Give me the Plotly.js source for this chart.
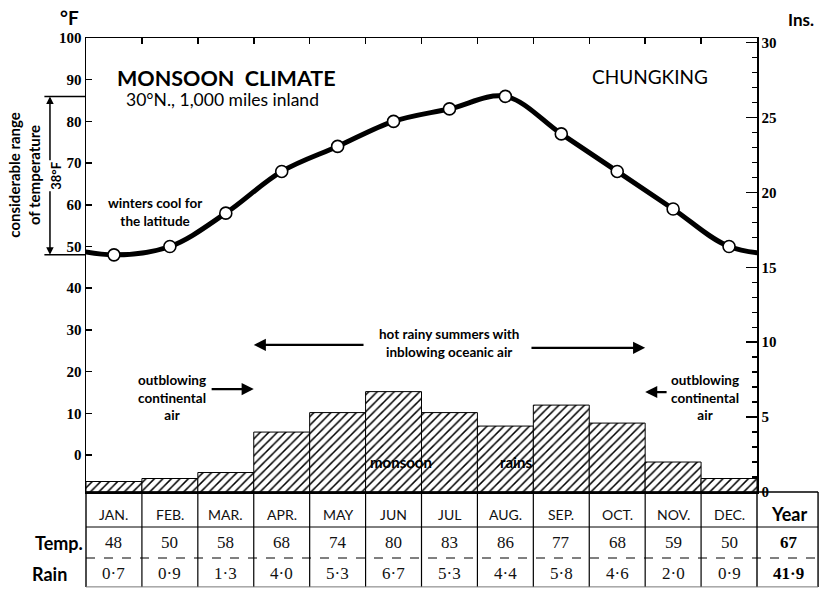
<!DOCTYPE html>
<html>
<head>
<meta charset="utf-8">
<script src="https://cdn.plot.ly/plotly-3.0.1.min.js"></script>
<style>html,body{margin:0;padding:0;background:#fff;}#chart{width:822px;height:589px;}</style>
</head>
<body>
<div id="chart"></div>
<script>
// ---- data ----
const months = ['JAN.','FEB.','MAR.','APR.','MAY','JUN','JUL','AUG.','SEP.','OCT.','NOV.','DEC.'];
const tempF  = [48, 50, 58, 68, 74, 80, 83, 86, 77, 68, 59, 50];
const rainIn = [0.7, 0.9, 1.3, 4.0, 5.3, 6.7, 5.3, 4.4, 5.8, 4.6, 2.0, 0.9];
const tempTicks = [0, 10, 20, 30, 40, 50, 60, 70, 80, 90, 100];
const rainTicks = [0, 5, 10, 15, 20, 25, 30];
const station = 'CHUNGKING';
const title = 'MONSOON CLIMATE';
const subtitle = '30°N., 1,000 miles inland';

// ---- derived ----
const idx = months.map((m, i) => i);
const fmt = v => v.toFixed(1).replace('.', '·');
const yearTemp = Math.round(tempF.reduce((a, b) => a + b, 0) / tempF.length);
const yearRain = rainIn.reduce((a, b) => a + b, 0);
const tMax = Math.max(...tempF), tMin = Math.min(...tempF);
// wrap the annual cycle so the curve runs to both plot edges
const wrapX = [-1].concat(idx, [months.length]);
const wrapY = [tempF[tempF.length - 1]].concat(tempF, [tempF[0]]);

const sans = 'Lato, "Open Sans", sans-serif';
const serif = '"Liberation Serif", "DejaVu Serif", serif';

const traces = [
  {
    type: 'bar', x: idx, y: rainIn, yaxis: 'y2', xaxis: 'x',
    marker: {
      color: '#ffffff',
      line: {color: '#000', width: 1},
      pattern: {shape: '/', fgcolor: '#000', bgcolor: '#fff', size: 6, solidity: 0.25}
    },
    hoverinfo: 'skip'
  },
  {
    type: 'scatter', mode: 'lines', x: wrapX, y: wrapY,
    line: {shape: 'spline', smoothing: 1, color: '#000', width: 5},
    hoverinfo: 'skip'
  },
  {
    type: 'scatter', mode: 'markers', x: idx, y: tempF,
    marker: {size: 12, color: '#fff', line: {color: '#000', width: 1.6}},
    hoverinfo: 'skip'
  }
];

// ---- table geometry (paper coords; plot domain bottom = top of table) ----
const rowTop = 0, rowH1 = -0.0771, rowH2 = -0.1454, rowBot = -0.209;
const yHead = -0.049, yTemp = -0.112, yRain = -0.180;
const yearRight = 1.091, yearCenter = 1.047;

const shapes = [];
const annotations = [];
function pa(o) { // paper-anchored annotation with explicit centre anchors
  return Object.assign({xref: 'paper', yref: 'paper', xanchor: 'center', yanchor: 'middle', showarrow: false}, o);
}

// vertical table lines between months
for (let k = 1; k < months.length; k++) {
  shapes.push({type: 'line', xref: 'x', yref: 'paper', x0: k - 0.5, x1: k - 0.5, y0: rowTop, y1: rowBot,
    line: {color: '#000', width: 1.2}});
}
// outer verticals
[0, 1, yearRight].forEach(xp => {
  shapes.push({type: 'line', xref: 'paper', yref: 'paper', x0: xp, x1: xp, y0: rowTop, y1: rowBot,
    line: {color: '#000', width: 1.4}});
});
// horizontal table lines
shapes.push({type: 'line', xref: 'paper', yref: 'paper', x0: 0, x1: yearRight, y0: rowTop, y1: rowTop, line: {color: '#000', width: 1.4}});
shapes.push({type: 'line', xref: 'paper', yref: 'paper', x0: 0, x1: yearRight, y0: rowH1, y1: rowH1, line: {color: '#000', width: 1}});
shapes.push({type: 'line', xref: 'paper', yref: 'paper', x0: 0, x1: yearRight, y0: rowH2, y1: rowH2, line: {color: '#000', width: 1, dash: 'dash'}});
shapes.push({type: 'line', xref: 'paper', yref: 'paper', x0: 0, x1: yearRight, y0: rowBot, y1: rowBot, line: {color: '#777', width: 1}});

// range marker lines (max & min temp)
[tMax, tMin].forEach(v => {
  shapes.push({type: 'line', xref: 'paper', yref: 'y', x0: -0.062, x1: 0, y0: v, y1: v, line: {color: '#000', width: 1.5}});
});

// table text
months.forEach((m, i) => {
  annotations.push({xref: 'x', yref: 'paper', x: i, y: yHead, xanchor: 'center', yanchor: 'middle', text: m, showarrow: false,
    font: {family: sans, size: 14, color: '#111'}});
  annotations.push({xref: 'x', yref: 'paper', x: i, y: yTemp, xanchor: 'center', yanchor: 'middle', text: String(tempF[i]), showarrow: false,
    font: {family: serif, size: 17, color: '#111'}});
  annotations.push({xref: 'x', yref: 'paper', x: i, y: yRain, xanchor: 'center', yanchor: 'middle', text: fmt(rainIn[i]), showarrow: false,
    font: {family: serif, size: 17, color: '#111'}});
});
annotations.push(pa({x: yearCenter, y: yHead, text: '<b>Year</b>', font: {family: sans, size: 18, color: '#000'}}));
annotations.push(pa({x: yearCenter, y: yTemp, text: '<b>' + yearTemp + '</b>', font: {family: serif, size: 17, color: '#000'}}));
annotations.push(pa({x: yearCenter, y: yRain, text: '<b>' + fmt(yearRain) + '</b>', font: {family: serif, size: 17, color: '#000'}}));
annotations.push(pa({x: -0.002, y: yTemp, xanchor: 'right', text: '<b>Temp.</b>', font: {family: sans, size: 18, color: '#000'}}));
annotations.push(pa({x: -0.084, y: yRain, xanchor: 'left', text: '<b>Rain</b>', font: {family: sans, size: 18, color: '#000'}}));

// titles & axis units
annotations.push(pa({x: 0.209, y: 0.912, text: '<b>' + title.split(' ').join('&nbsp;&nbsp;') + '</b>',
  font: {family: sans, size: 21.5, color: '#000'}}));
annotations.push(pa({x: 0.204, y: 0.864, text: subtitle, font: {family: sans, size: 17.5, color: '#000'}}));
annotations.push(pa({x: 0.8405, y: 0.916, text: station, font: {family: sans, size: 19, color: '#000'}}));
annotations.push(pa({x: -0.024, y: 1.046, text: '<b>°F</b>', font: {family: sans, size: 19, color: '#000'}}));
annotations.push(pa({x: 1.066, y: 1.040, text: '<b>Ins.</b>', font: {family: sans, size: 17, color: '#000'}}));

// temperature range
annotations.push(pa({x: -0.0915, y: 0.698, textangle: -90,
  text: '<b>considerable range<br>of temperature</b>', font: {family: sans, size: 15, color: '#000'}}));
const midT = (tMax + tMin) / 2;
[tMax, tMin].forEach(v => {
  annotations.push({xref: 'paper', yref: 'y', x: -0.0537, y: v, axref: 'pixel', ax: 0, ayref: 'y', ay: midT,
    text: '', showarrow: true, arrowhead: 2, arrowsize: 1, arrowwidth: 1.5, arrowcolor: '#000', standoff: 0});
});
annotations.push({xref: 'paper', yref: 'y', x: -0.046, y: midT, xanchor: 'center', yanchor: 'middle', textangle: -90,
  text: '<b>' + (tMax - tMin) + '°F</b>', showarrow: false, bgcolor: '#fff',
  font: {family: sans, size: 13, color: '#000'}});

// explanatory notes
const note = {family: sans, size: 13.5, color: '#000'};
annotations.push({xref: 'x', yref: 'y', x: 0.73, y: 58.3, text: '<b>winters cool for<br>the latitude</b>', showarrow: false, font: note});
annotations.push({xref: 'x', yref: 'y', x: 6.0, y: 26.9, text: '<b>hot rainy summers with<br>inblowing oceanic air</b>', showarrow: false, font: note});
annotations.push({xref: 'x', yref: 'y', x: 1.04, y: 13.9, text: '<b>outblowing<br>continental<br>air</b>', showarrow: false, font: note});
annotations.push({xref: 'x', yref: 'y', x: 10.57, y: 13.9, text: '<b>outblowing<br>continental<br>air</b>', showarrow: false, font: note});
annotations.push({xref: 'x', yref: 'y', x: 5.13, y: -1.7, text: '<b>monsoon</b>', showarrow: false, font: {family: sans, size: 15, color: '#000'}});
annotations.push({xref: 'x', yref: 'y', x: 7.19, y: -1.7, text: '<b>rains</b>', showarrow: false, font: {family: sans, size: 15, color: '#000'}});

// arrows
function arrow(x0, y0, x1, y1) {
  annotations.push({xref: 'x', yref: 'y', axref: 'x', ayref: 'y', x: x1, y: y1, ax: x0, ay: y0,
    text: '', showarrow: true, arrowhead: 2, arrowsize: 1.1, arrowwidth: 2.2, arrowcolor: '#000', standoff: 0});
}
arrow(4.49, 26.4, 2.5, 26.4);
arrow(7.44, 25.7, 9.5, 25.7);
arrow(1.72, 15.8, 2.5, 15.8);
arrow(9.91, 15.1, 9.5, 15.1);

const layout = {
  width: 822, height: 589,
  margin: {l: 86, r: 65, t: 38, b: 97, pad: 0},
  paper_bgcolor: '#fff', plot_bgcolor: '#fff',
  showlegend: false,
  bargap: 0,
  xaxis: {
    range: [-0.5, months.length - 0.5], side: 'top',
    tickmode: 'array', tickvals: idx.slice(1).map(i => i - 0.5),
    ticks: 'inside', ticklen: 6, tickwidth: 1.5, tickcolor: '#000',
    showticklabels: false, showgrid: false, zeroline: false,
    showline: true, mirror: true, linecolor: '#000', linewidth: 1.5, fixedrange: true
  },
  yaxis: {
    range: [-8.87, 100], side: 'left',
    tickmode: 'array', tickvals: tempTicks, ticktext: tempTicks.map(String),
    ticks: 'inside', ticklen: 6, tickwidth: 1.5, tickcolor: '#000',
    tickfont: {family: serif, size: 15, color: '#000', weight: 'bold'},
    showgrid: false, zeroline: false, showline: true, linecolor: '#000', linewidth: 1.5, fixedrange: true
  },
  yaxis2: {
    range: [0, 30.3], side: 'right', overlaying: 'y',
    tickmode: 'array', tickvals: rainTicks, ticktext: rainTicks.map(String),
    ticks: 'inside', ticklen: 11, tickwidth: 1.5, tickcolor: '#000',
    minor: {dtick: 1, ticks: 'inside', ticklen: 5, tickwidth: 1.3, tickcolor: '#000', showgrid: false},
    tickfont: {family: serif, size: 15, color: '#000', weight: 'bold'},
    showgrid: false, zeroline: false, showline: true, linecolor: '#000', linewidth: 1.5, fixedrange: true
  },
  shapes: shapes,
  annotations: annotations
};

Plotly.newPlot('chart', traces, layout, {displayModeBar: false, staticPlot: true});
</script>
</body>
</html>
